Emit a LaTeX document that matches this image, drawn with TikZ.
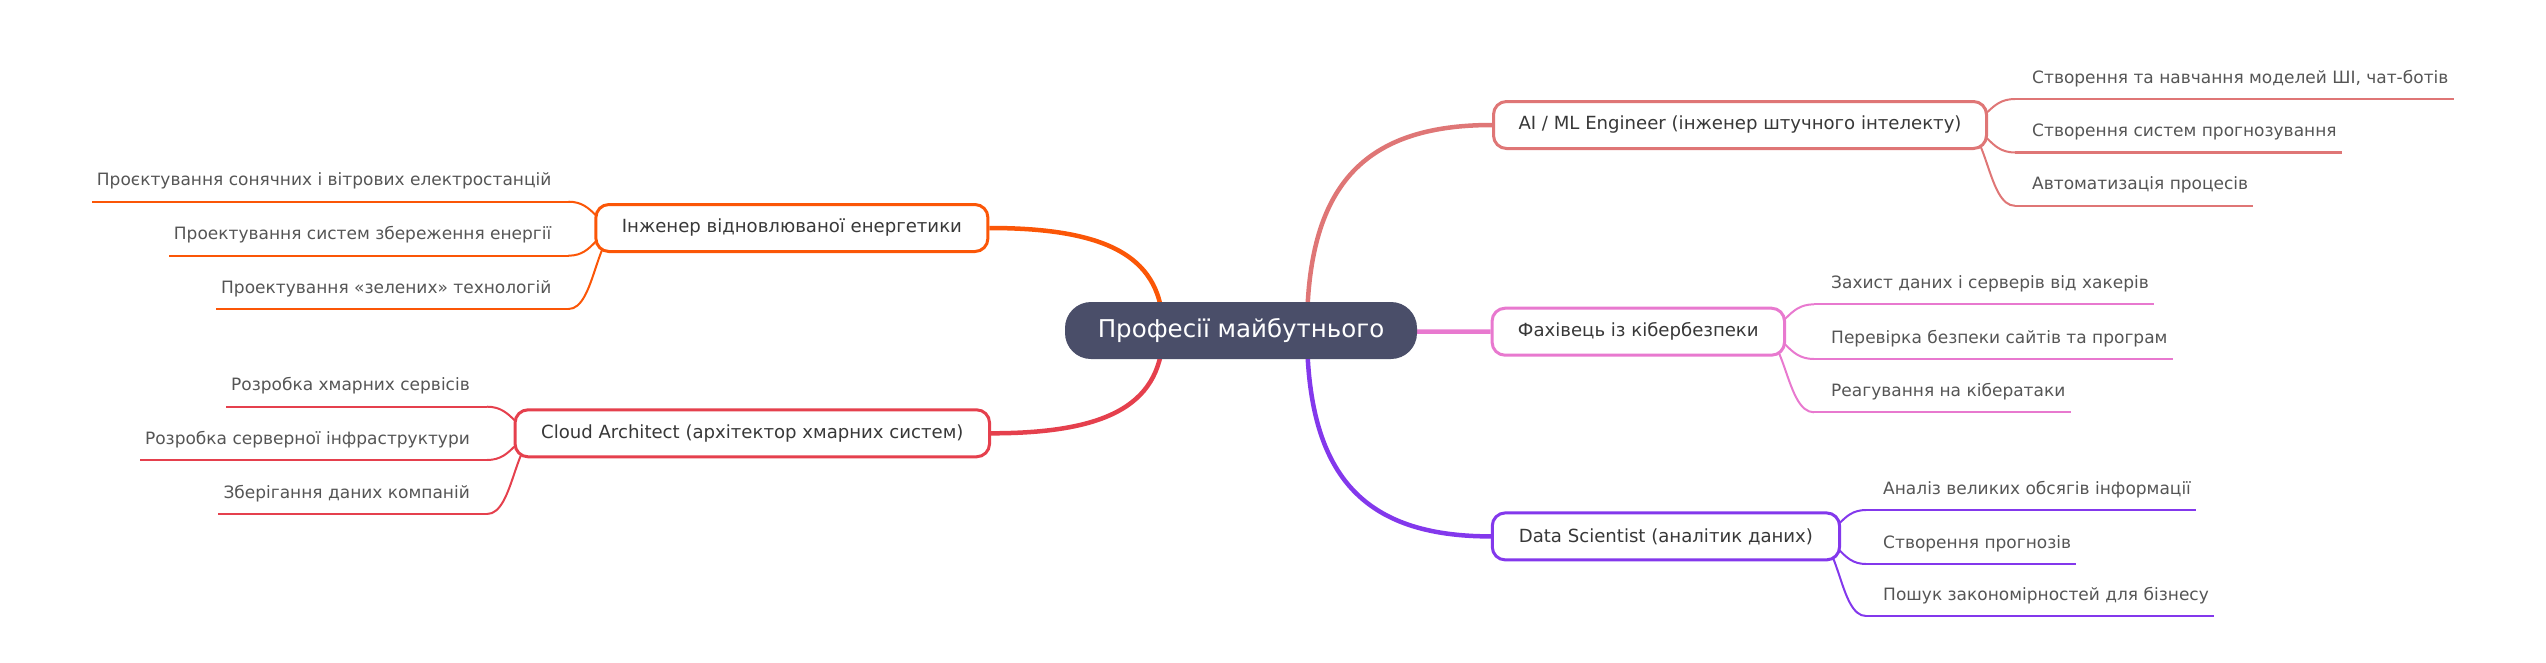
\documentclass[tikz,border=0pt]{standalone}
\usepackage{fontspec}
\setmainfont{DejaVu Sans}
\usetikzlibrary{calc,backgrounds}
\definecolor{cRoot}{HTML}{4A4E69}
\definecolor{cAI}{HTML}{DF7676}
\definecolor{cCY}{HTML}{E879CF}
\definecolor{cDS}{HTML}{8338EC}
\definecolor{cRE}{HTML}{FB5607}
\definecolor{cCL}{HTML}{E5404D}
\definecolor{textdark}{HTML}{383838}
\definecolor{textgray}{HTML}{555555}
\newcommand\mmlink[4]{%
  \coordinate (#4) at (#1|-#2);
  \draw[mainlink=#3] (#1) .. controls ($(#1)!0.7!(#4)$) and ($(#2)!0.7!(#4)$) .. (#2);}
\newcommand\lflink[3]{%
  \coordinate (#2h1) at (#2|-#1);
  \coordinate (#2h2) at (#1|-#2);
  \draw[leaflink=#3] (#1) .. controls ($(#1)!0.5!(#2h1)$) and ($(#2)!0.5!(#2h2)$) .. (#2);}
\begin{document}
\begin{tikzpicture}[x=1pt,y=-1pt,
  rootbox/.style={fill=cRoot, text=white, rounded corners=26, minimum width=352, minimum height=57, inner sep=0, font=\fontsize{24.5}{28}\selectfont},
  branchbox/.style={draw=#1, line width=3, fill=white, rounded corners=13, minimum height=47, inner sep=0, text=textdark, font=\fontsize{18.1}{22}\selectfont},
  leaftext/.style={inner xsep=5, inner ysep=0, text=textgray, font=\fontsize{17}{20}\selectfont},
  mainlink/.style={draw=#1, line width=4.5},
  leaflink/.style={draw=#1, line width=2},
  uline/.style={draw=#1, line width=2.2},
]
\useasboundingbox (0,0) rectangle (2546,662);

% root
\node[rootbox] (root) at (1241,330.5) {Професії майбутнього};

% branches
\node[branchbox=cAI, minimum width=493] (ai) at (1740,125) {AI / ML Engineer (інженер штучного інтелекту)};
\node[branchbox=cCY, minimum width=292.5] (cy) at (1638.3,331.7) {Фахівець із кібербезпеки};
\node[branchbox=cDS, minimum width=347.3] (ds) at (1665.9,536.4) {Data Scientist (аналітик даних)};
\node[branchbox=cRE, minimum width=392] (re) at (791.9,228) {Інженер відновлюваної енергетики};
\node[branchbox=cCL, minimum width=474.5] (cl) at (752.3,433.3) {Cloud Architect (архітектор хмарних систем)};

% leaves: right side
\coordinate (a1) at (2015,99);
\coordinate (a2) at (2015,152.5);
\coordinate (a3) at (2015,205.8);
\node[leaftext, anchor=base west] (a1t) at ($(a1)+(12,-16)$) {Створення та навчання моделей ШІ, чат-ботів};
\node[leaftext, anchor=base west] (a2t) at ($(a2)+(12,-16)$) {Створення систем прогнозування};
\node[leaftext, anchor=base west] (a3t) at ($(a3)+(12,-16)$) {Автоматизація процесів};

\coordinate (c1) at (1814,304.3);
\coordinate (c2) at (1814,359);
\coordinate (c3) at (1814,412.3);
\node[leaftext, anchor=base west] (c1t) at ($(c1)+(12,-16)$) {Захист даних і серверів від хакерів};
\node[leaftext, anchor=base west] (c2t) at ($(c2)+(12,-16)$) {Перевірка безпеки сайтів та програм};
\node[leaftext, anchor=base west] (c3t) at ($(c3)+(12,-16)$) {Реагування на кібератаки};

\coordinate (d1) at (1866,510);
\coordinate (d2) at (1866,564);
\coordinate (d3) at (1866,616);
\node[leaftext, anchor=base west] (d1t) at ($(d1)+(12,-16)$) {Аналіз великих обсягів інформації};
\node[leaftext, anchor=base west] (d2t) at ($(d2)+(12,-16)$) {Створення прогнозів};
\node[leaftext, anchor=base west] (d3t) at ($(d3)+(12,-16)$) {Пошук закономірностей для бізнесу};

% leaves: left side
\coordinate (r1) at (568.5,201.7);
\coordinate (r2) at (568.5,255.7);
\coordinate (r3) at (568.5,309);
\node[leaftext, anchor=base east] (r1t) at ($(r1)+(-12,-16)$) {Проєктування сонячних і вітрових електростанцій};
\node[leaftext, anchor=base east] (r2t) at ($(r2)+(-12,-16)$) {Проектування систем збереження енергії};
\node[leaftext, anchor=base east] (r3t) at ($(r3)+(-12,-16)$) {Проектування «зелених» технологій};

\coordinate (l1) at (487,406.7);
\coordinate (l2) at (487,460);
\coordinate (l3) at (487,514);
\node[leaftext, anchor=base east] (l1t) at ($(l1)+(-12,-16)$) {Розробка хмарних сервісів};
\node[leaftext, anchor=base east] (l2t) at ($(l2)+(-12,-16)$) {Розробка серверної інфраструктури};
\node[leaftext, anchor=base east] (l3t) at ($(l3)+(-12,-16)$) {Зберігання даних компаній};

\begin{scope}[on background layer]
  \coordinate (rootR) at ($(root.center)+(66,0)$);
  \coordinate (rootL) at ($(root.center)+(-78,0)$);
  \mmlink{rootR}{ai.west}{cAI}{kAI}
  \mmlink{rootR}{cy.west}{cCY}{kCY}
  \mmlink{rootR}{ds.west}{cDS}{kDS}
  \mmlink{rootL}{re.east}{cRE}{kRE}
  \mmlink{rootL}{cl.east}{cCL}{kCL}

  \coordinate (aiS) at ($(ai.east)+(-28,0)$);
  \coordinate (cyS) at ($(cy.east)+(-28,0)$);
  \coordinate (dsS) at ($(ds.east)+(-28,0)$);
  \coordinate (reS) at ($(re.west)+(28,0)$);
  \coordinate (clS) at ($(cl.west)+(28,0)$);

  \lflink{aiS}{a1}{cAI} \lflink{aiS}{a2}{cAI} \lflink{aiS}{a3}{cAI}
  \lflink{cyS}{c1}{cCY} \lflink{cyS}{c2}{cCY} \lflink{cyS}{c3}{cCY}
  \lflink{dsS}{d1}{cDS} \lflink{dsS}{d2}{cDS} \lflink{dsS}{d3}{cDS}
  \lflink{reS}{r1}{cRE} \lflink{reS}{r2}{cRE} \lflink{reS}{r3}{cRE}
  \lflink{clS}{l1}{cCL} \lflink{clS}{l2}{cCL} \lflink{clS}{l3}{cCL}

  \draw[uline=cAI] (a1) -- (a1t.east|-a1);
  \draw[uline=cAI] (a2) -- (a2t.east|-a2);
  \draw[uline=cAI] (a3) -- (a3t.east|-a3);
  \draw[uline=cCY] (c1) -- (c1t.east|-c1);
  \draw[uline=cCY] (c2) -- (c2t.east|-c2);
  \draw[uline=cCY] (c3) -- (c3t.east|-c3);
  \draw[uline=cDS] (d1) -- (d1t.east|-d1);
  \draw[uline=cDS] (d2) -- (d2t.east|-d2);
  \draw[uline=cDS] (d3) -- (d3t.east|-d3);
  \draw[uline=cRE] (r1) -- (r1t.west|-r1);
  \draw[uline=cRE] (r2) -- (r2t.west|-r2);
  \draw[uline=cRE] (r3) -- (r3t.west|-r3);
  \draw[uline=cCL] (l1) -- (l1t.west|-l1);
  \draw[uline=cCL] (l2) -- (l2t.west|-l2);
  \draw[uline=cCL] (l3) -- (l3t.west|-l3);
\end{scope}
\end{tikzpicture}
\end{document}
